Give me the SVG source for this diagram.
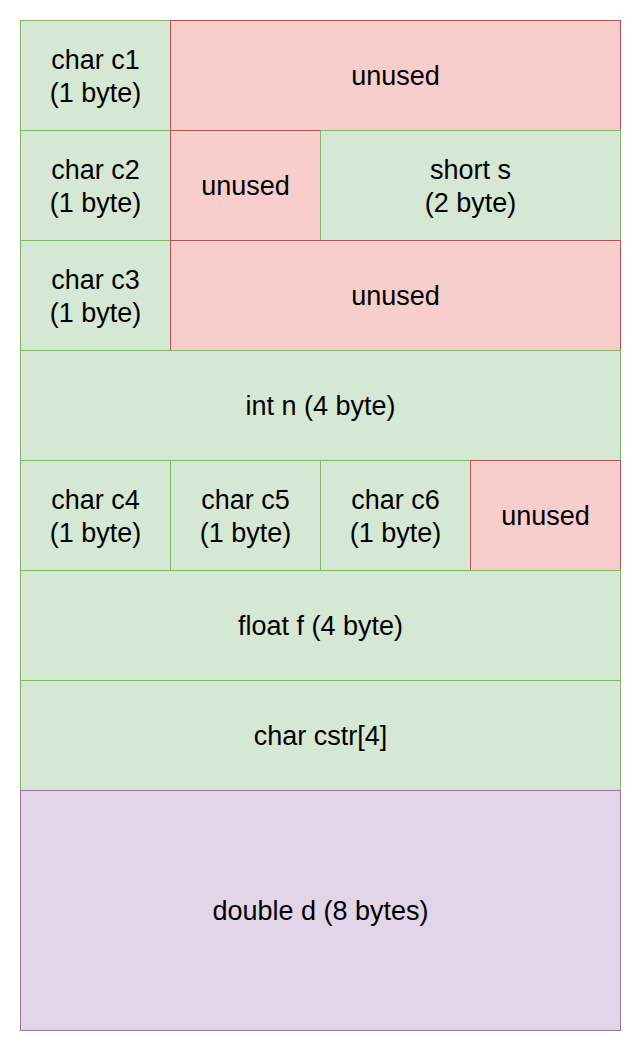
<svg xmlns="http://www.w3.org/2000/svg" width="641" height="1051" viewBox="0 0 641 1051">
<style>
.g{fill:#d5e8d4;stroke:#82b366;stroke-width:1}
.r{fill:#f8cecc;stroke:#b85450;stroke-width:1}
.p{fill:#e1d5e7;stroke:#9673a6;stroke-width:1}
text{font-family:"Liberation Sans",Arial,sans-serif;font-size:27px;fill:#000;text-anchor:middle;dominant-baseline:central}
</style>
<rect width="641" height="1051" fill="#fff"/>
<g id="c1"><rect class="g" x="20.5" y="20.5" width="150" height="110"/><text x="95.5" y="59.5">char c1</text><text x="95.5" y="92.5">(1 byte)</text></g>
<g id="u1"><rect class="r" x="170.5" y="20.5" width="450" height="110"/><text x="395.5" y="75.5">unused</text></g>
<g id="c2"><rect class="g" x="20.5" y="130.5" width="150" height="110"/><text x="95.5" y="169.5">char c2</text><text x="95.5" y="202.5">(1 byte)</text></g>
<g id="u2"><rect class="r" x="170.5" y="130.5" width="150" height="110"/><text x="245.5" y="185.5">unused</text></g>
<g id="s"><rect class="g" x="320.5" y="130.5" width="300" height="110"/><text x="470.5" y="169.5">short s</text><text x="470.5" y="202.5">(2 byte)</text></g>
<g id="c3"><rect class="g" x="20.5" y="240.5" width="150" height="110"/><text x="95.5" y="279.5">char c3</text><text x="95.5" y="312.5">(1 byte)</text></g>
<g id="u3"><rect class="r" x="170.5" y="240.5" width="450" height="110"/><text x="395.5" y="295.5">unused</text></g>
<g id="n"><rect class="g" x="20.5" y="350.5" width="600" height="110"/><text x="320.5" y="405.5">int n (4 byte)</text></g>
<g id="c4"><rect class="g" x="20.5" y="460.5" width="150" height="110"/><text x="95.5" y="499.5">char c4</text><text x="95.5" y="532.5">(1 byte)</text></g>
<g id="c5"><rect class="g" x="170.5" y="460.5" width="150" height="110"/><text x="245.5" y="499.5">char c5</text><text x="245.5" y="532.5">(1 byte)</text></g>
<g id="c6"><rect class="g" x="320.5" y="460.5" width="150" height="110"/><text x="395.5" y="499.5">char c6</text><text x="395.5" y="532.5">(1 byte)</text></g>
<g id="u4"><rect class="r" x="470.5" y="460.5" width="150" height="110"/><text x="545.5" y="515.5">unused</text></g>
<g id="f"><rect class="g" x="20.5" y="570.5" width="600" height="110"/><text x="320.5" y="625.5">float f (4 byte)</text></g>
<g id="cstr"><rect class="g" x="20.5" y="680.5" width="600" height="110"/><text x="320.5" y="735.5">char cstr[4]</text></g>
<g id="d"><rect class="p" x="20.5" y="790.5" width="600" height="240"/><text x="320.5" y="910.5">double d (8 bytes)</text></g>
<g id="connectors"/>
</svg>
